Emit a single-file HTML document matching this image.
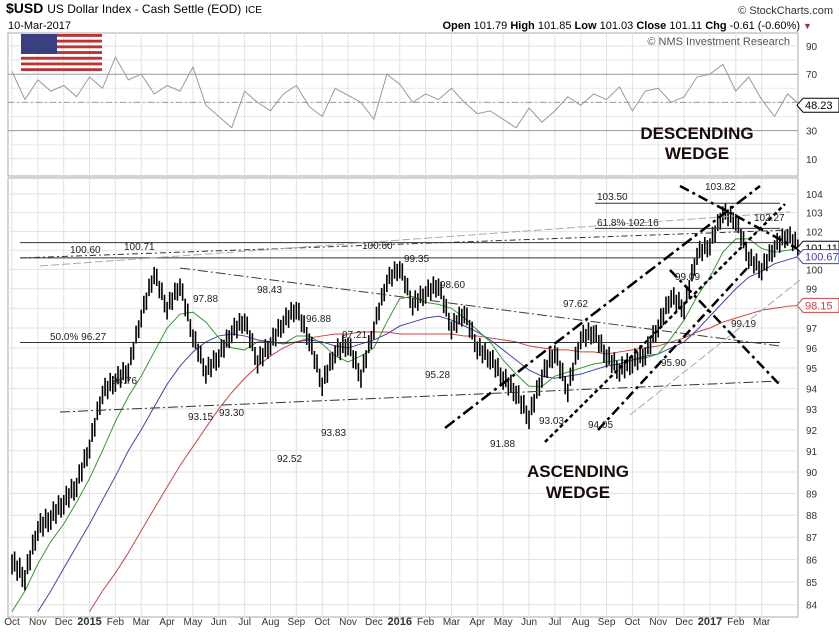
<!DOCTYPE html>
<html><head><meta charset="utf-8"><style>
body{margin:0;background:#fff;font-family:"Liberation Sans",sans-serif}
svg text{font-family:"Liberation Sans",sans-serif}
</style></head><body>
<svg id="c" width="839" height="627" xmlns="http://www.w3.org/2000/svg">
<rect width="839" height="627" fill="#fff"/>
<text x="6" y="13" font-size="14" font-weight="bold">$USD <tspan font-weight="normal" font-size="12">US Dollar Index - Cash Settle (EOD)</tspan> <tspan font-weight="normal" font-size="10">ICE</tspan></text>
<text x="8" y="29" font-size="11">10-Mar-2017</text>
<text x="833" y="14" font-size="11" text-anchor="end" fill="#333">© StockCharts.com</text>
<text x="800" y="29" font-size="11" text-anchor="end"><tspan font-weight="bold">Open</tspan> 101.79 <tspan font-weight="bold">High</tspan> 101.85 <tspan font-weight="bold">Low</tspan> 101.03 <tspan font-weight="bold">Close</tspan> 101.11 <tspan font-weight="bold">Chg</tspan> -0.61 (-0.60%)</text>
<text x="803" y="29" font-size="9" fill="#933">▼</text>
<g id="rsi"></g><g id="main"></g>
</svg>
<script>
const months=['Oct','Nov','Dec','2015','Feb','Mar','Apr','May','Jun','Jul','Aug','Sep','Oct','Nov','Dec','2016','Feb','Mar','Apr','May','Jun','Jul','Aug','Sep','Oct','Nov','Dec','2017','Feb','Mar'];
const priceTicks=[84,85,86,87,88,89,90,91,92,93,94,95,96,97,98,99,100,101,102,103,104];
const rsiTicks=[10,30,70,90];
// half-month samples starting Oct 2014
const price=[85.9,85.2,87.4,87.9,88.6,89.4,91.2,93.8,94.4,94.9,97.6,99.8,98.0,99.2,96.6,94.8,95.6,96.8,97.4,95.3,96.2,97.3,98.0,96.4,94.2,95.8,96.2,94.6,97.0,99.4,100.1,98.2,98.8,99.2,97.0,97.8,96.0,95.5,94.5,93.8,92.6,94.6,95.8,93.9,96.5,96.8,95.6,94.9,95.3,95.7,97.1,98.6,98.0,100.8,101.3,103.0,102.6,100.6,100.0,101.2,101.8,101.1];
const ma50=[83.7,84.6,85.8,86.8,87.6,88.6,89.7,91.0,92.4,93.6,94.6,95.8,97.0,97.7,97.8,97.3,96.5,96.0,95.9,96.3,96.3,96.2,96.6,96.6,96.2,95.6,95.3,95.6,96.0,97.3,98.5,98.6,98.3,98.2,98.0,97.5,96.9,96.3,95.4,94.7,94.1,94.1,94.6,94.8,95.0,95.2,95.3,95.4,95.4,95.5,95.7,96.5,97.4,98.6,99.6,100.9,101.6,101.6,101.1,100.9,101.0,101.1];
const ma100=[null,null,83.7,84.6,85.6,86.6,87.6,88.7,89.8,91.0,92.0,93.1,94.2,95.1,95.8,96.3,96.6,96.7,96.6,96.4,96.3,96.2,96.3,96.4,96.3,96.1,96.0,96.2,96.4,96.7,97.1,97.3,97.5,97.6,97.4,97.1,96.8,96.4,95.9,95.4,94.9,94.6,94.5,94.6,94.7,94.9,95.1,95.2,95.4,95.6,95.7,96.0,96.3,96.9,97.6,98.3,99.0,99.6,99.9,100.3,100.5,100.7];
const ma200=[null,null,null,null,null,null,83.7,84.6,85.4,86.3,87.3,88.3,89.3,90.3,91.2,92.1,93.0,93.8,94.5,95.1,95.6,96.0,96.3,96.5,96.6,96.7,96.7,96.8,96.8,96.8,96.7,96.7,96.7,96.7,96.7,96.6,96.6,96.5,96.4,96.3,96.1,96.0,95.9,95.9,95.8,95.8,95.7,95.8,95.9,96.0,96.1,96.3,96.5,96.8,97.0,97.3,97.5,97.7,97.9,98.0,98.1,98.15];
const rsi=[72,52,66,58,62,54,68,60,82,66,70,56,62,58,75,48,40,32,58,50,44,56,62,47,40,60,55,50,38,70,63,50,56,52,60,50,42,44,38,32,46,36,44,54,48,56,52,61,44,58,60,50,54,68,70,77,58,68,52,40,56,48];
const X0=12,MW=25.85,PR=798,PL=8;
const xi=i=>X0+i*MW/2;
const yp=p=>194+(Math.log(104)-Math.log(p))*1923;
const yr=v=>46+(90-v)*1.41;
const NS='http://www.w3.org/2000/svg';
const svg=document.getElementById('c');
function mk(tag,attrs,parent,txt){const e=document.createElementNS(NS,tag);for(const k in attrs)e.setAttribute(k,attrs[k]);if(txt!==undefined)e.textContent=txt;(parent||svg).appendChild(e);return e;}
// panels
const rp=mk('rect',{x:PL,y:33,width:PR-PL,height:143,fill:'none',stroke:'#aaa'});


const mp=mk('rect',{x:PL,y:178,width:PR-PL,height:439,fill:'none',stroke:'#aaa'});


// vertical grid + month labels
months.forEach((m,i)=>{const x=X0+i*MW;
mk('line',{x1:x,x2:x,y1:33,y2:176,stroke:'#e2e2e2'});
mk('line',{x1:x,x2:x,y1:178,y2:617,stroke:'#e2e2e2'});
const t=mk('text',{x:x+(m.length==4?0:0),y:625,'font-size':m.length==4?11:10,'font-weight':m.length==4?'bold':'normal','text-anchor':'middle',fill:'#333'},svg,m);

});
// price grid
priceTicks.forEach(p=>{const y=yp(p);mk('line',{x1:PL,x2:PR,y1:y,y2:y,stroke:'#e2e2e2'});
const t=mk('text',{x:806,y:y+4,'font-size':10,fill:'#333'},svg,p);

});
[20,40,50,60,80].forEach(v=>mk('line',{x1:PL,x2:PR,y1:yr(v),y2:yr(v),stroke:'#e8e8e8'}));
rsiTicks.forEach(v=>{const y=yr(v);mk('line',{x1:PL,x2:PR,y1:y,y2:y,stroke:v==30||v==70?'#999':'#e2e2e2'});
const t=mk('text',{x:806,y:y+4,'font-size':10,fill:'#333'},svg,v);

});
mk('line',{x1:PL,x2:PR,y1:yr(50),y2:yr(50),stroke:'#999','stroke-dasharray':'6,3,2,3'});
// flag
const fl=mk('g',{});


for(let i=0;i<7;i++)mk('rect',{x:21,y:34+i*5.7,width:81,height:2.85,fill:'#b33'},fl);
mk('rect',{x:21,y:34,width:36,height:20,fill:'#3a3f80'},fl);
const cr=mk('text',{x:790,y:45,'font-size':11,'text-anchor':'end',fill:'#555'},svg,'© NMS Investment Research');


// RSI line
const rl=mk('polyline',{points:rsi.map((v,i)=>xi(i)+','+yr(v)).join(' '),fill:'none',stroke:'#999','stroke-width':1});


function tag(x,y,txt,col,name){const g=mk('g',{});
mk('path',{d:`M${x} ${y} l6 -7 h36 v14 h-36 z`,fill:'#fff',stroke:col},g);mk('text',{x:x+8,y:y+4,'font-size':11,fill:col=='#000'?'#000':col},g,txt);}
tag(797,yr(rsi[rsi.length-1]),'48.23','#000','rsi-value-tag');
// MA lines
function line(arr,col,name,w){const pts=[];arr.forEach((v,i)=>{if(v!=null)pts.push(xi(i)+','+Math.min(617,yp(v)));});
const l=mk('polyline',{points:pts.join(' '),fill:'none',stroke:col,'stroke-width':w});

}
line(ma200,'#c44','ma-200',1);line(ma100,'#44a','ma-100',1);line(ma50,'#393','ma-50',1);
// price bars
const pg=mk('g',{});


price.forEach((v,i)=>{if(i==0)return;const a=price[i-1];for(let k=0;k<5;k++){const x=xi(i-1)+k*MW/10;const p=a+(v-a)*k/5;const j=(k%2?0.5:-0.4);
mk('line',{x1:x,x2:x,y1:yp(p+0.45+j*0.3),y2:yp(p-0.45+j*0.3),stroke:'#000','stroke-width':1.6},pg);}});
// horizontal reference lines
[[100.6,20,700],[96.27,20,780],[103.5,595,780],[102.16,595,780],[101.4,20,790]].forEach(r=>mk('line',{x1:r[1],x2:r[2],y1:yp(r[0]),y2:yp(r[0]),stroke:'#333','stroke-width':1}));
// trendlines (annotation)
const tl=[[20,258,790,230,'#333',1,'6,3,2,3'],[60,412,780,381,'#333',1,'10,3,2,3'],[180,268,780,346,'#533',1,'10,3,2,3'],[40,266,790,212,'#aaa',1,'8,3'],
[445,428,760,186,'#000',2.5,'12,4,3,4'],[545,442,785,204,'#000',2.5,'4,3'],[598,430,750,265,'#000',2.5,'10,4,3,4'],[680,186,800,250,'#000',2.5,'10,4,3,4'],[670,270,780,385,'#000',2.5,'10,4,3,4'],[630,415,800,280,'#aaa',1,'8,3']];
tl.forEach(t=>{const l=mk('line',{x1:t[0],y1:t[1],x2:t[2],y2:t[3],stroke:t[4],'stroke-width':t[5],'stroke-dasharray':t[6]});

});
// value labels
const labs=[[70,253,'100.60'],[124,250,'100.71'],[193,302,'97.88'],[257,293,'98.43'],[306,322,'96.88'],[342,338,'97.21'],[362,249,'100.60'],[404,262,'99.35'],[440,288,'98.60'],[425,378,'95.28'],[112,384,'94.76'],[188,420,'93.15'],[219,416,'93.30'],[277,462,'92.52'],[321,436,'93.83'],[490,447,'91.88'],[539,424,'93.03'],[588,428,'94.05'],[563,307,'97.62'],[675,280,'99.09'],[661,366,'95.90'],[731,327,'99.19'],[597,200,'103.50'],[597,226,'61.8%  102.16'],[705,190,'103.82'],[754,221,'102.27'],[50,340,'50.0%  96.27']];
labs.forEach(l=>{const t=mk('text',{x:l[0],y:l[1],'font-size':10,fill:'#222'},svg,l[2]);

});
tag(797,yp(101.11),'101.11','#000','close-tag');
tag(797,yp(100.67),'100.67','#44a','ma100-tag');
tag(797,yp(98.15),'98.15','#c44','ma200-tag');
[[697,139,'DESCENDING'],[697,159,'WEDGE'],[578,477,'ASCENDING'],[578,498,'WEDGE']].forEach(w=>{const t=mk('text',{x:w[0],y:w[1],'font-size':17,'font-weight':'bold','text-anchor':'middle',fill:'#1a0a0a'},svg,w[2]);

});
</script>
</body></html>
